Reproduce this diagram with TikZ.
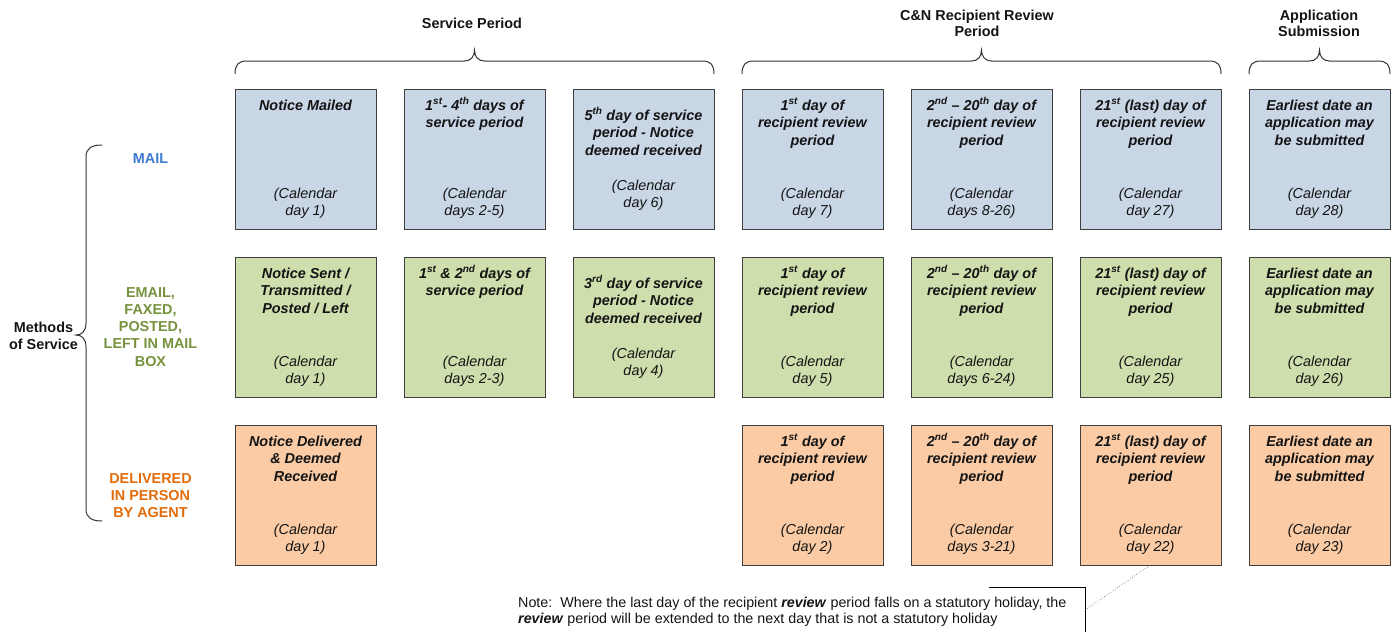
\documentclass[tikz,border=0pt]{standalone}
\usepackage{fontspec}
\setmainfont{Liberation Sans}
\definecolor{bluefill}{RGB}{201,214,230}
\definecolor{greenfill}{RGB}{206,222,172}
\definecolor{orangefill}{RGB}{250,203,164}
\definecolor{boxline}{RGB}{64,64,64}
\definecolor{maillab}{RGB}{62,122,206}
\definecolor{greenlab}{RGB}{118,146,60}
\definecolor{orangelab}{RGB}{227,108,10}
\definecolor{txt}{RGB}{20,20,20}
\newcommand\lns[1]{\begin{tabular}[t]{@{}c@{}}#1\end{tabular}}
\newcommand\lnsl[1]{\begin{tabular}[t]{@{}l@{}}#1\end{tabular}}
\newcommand\sps[1]{\textsuperscript{#1}}
\tikzset{
  box/.style={draw=boxline, line width=1pt, minimum width=141pt, minimum height=140pt, inner sep=0pt, outer sep=0pt},
  ttl/.style={inner sep=0pt, text=txt, font=\fontsize{14.4}{17.5}\selectfont\bfseries\itshape, anchor=base},
  cal/.style={inner sep=0pt, text=txt, font=\fontsize{14.4}{17.5}\selectfont\itshape, anchor=base},
  hdr/.style={inner sep=0pt, text=txt, font=\fontsize{14.4}{16.5}\selectfont\bfseries, anchor=base},
  lab/.style={inner sep=0pt, font=\fontsize{14.4}{17.3}\selectfont\bfseries, anchor=base},
  br/.style={draw=black!80, line width=1pt},
  notefont/.style={inner sep=0pt, text=txt, font=\fontsize{14.3}{16}\selectfont, anchor=base west}
}
% #1 name, #2 left x, #3 top y, #4 fill, #5 title, #6 title offset, #7 calendar, #8 calendar offset
\newcommand\cell[8]{%
  \node[box, fill=#4] (#1) at ({#2+70.5},{#3+70}) {};
  \node[ttl] (#1t) at ({#2+70.5},{#3+#6}) {\lns{#5}};
  \node[cal] (#1c) at ({#2+70.5},{#3+#8}) {\lns{#7}};
}
\newcommand\hbr[3]{%
  \draw[br] (#1,74) .. controls (#1,65) and ({#1+3},61) .. ({#1+12},61)
    -- ({#2-10},61) .. controls ({#2-4},61) and (#2,57) .. (#2,50)
    .. controls (#2,57) and ({#2+4},61) .. ({#2+10},61)
    -- ({#3-12},61) .. controls ({#3-3},61) and (#3,65) .. (#3,74);
}
\begin{document}
\begin{tikzpicture}[x=1pt,y=-1pt]
\useasboundingbox (0,0) rectangle (1392,632);

% headers
\node[hdr] (hsp) at (472,28) {Service Period};
\node[hdr] (hcn) at (977,20) {\lns{C\&N Recipient Review\\Period}};
\node[hdr] (hap) at (1319,20) {\lns{Application\\Submission}};
\hbr{235}{474.5}{714}
\hbr{742}{981.5}{1221}
\hbr{1249}{1319.5}{1390}

% left brace and labels
\draw[br] (102,145) .. controls (92,145) and (86,148) .. (86,157) -- (86,323)
  .. controls (86,331) and (82,335) .. (76,335)
  .. controls (82,335) and (86,339) .. (86,347) -- (86,509)
  .. controls (86,518) and (92,521) .. (102,521);
\node[lab, text=txt] (meth) at (43.5,332) {\lns{Methods\\of Service}};
\node[lab, text=maillab] (lmail) at (150.5,163) {MAIL};
\node[lab, text=greenlab] (lemail) at (150.5,297) {\lns{EMAIL,\\FAXED,\\POSTED,\\LEFT IN MAIL\\BOX}};
\node[lab, text=orangelab] (ldel) at (150.5,483) {\lns{DELIVERED\\IN PERSON\\BY AGENT}};

% row 1 (mail)
\cell{b11}{235}{89}{bluefill}{Notice Mailed}{21}{(Calendar\\day 1)}{109}
\cell{b12}{404}{89}{bluefill}{1\sps{st}- 4\sps{th} days of\\service period}{21}{(Calendar\\days 2-5)}{109}
\cell{b13}{573}{89}{bluefill}{5\sps{th} day of service\\period - Notice\\deemed received}{31}{(Calendar\\day 6)}{101}
\cell{b14}{742}{89}{bluefill}{1\sps{st} day of\\recipient review\\period}{21}{(Calendar\\day 7)}{109}
\cell{b15}{911}{89}{bluefill}{2\sps{nd} – 20\sps{th} day of\\recipient review\\period}{21}{(Calendar\\days 8-26)}{109}
\cell{b16}{1080}{89}{bluefill}{21\sps{st} (last) day of\\recipient review\\period}{21}{(Calendar\\day 27)}{109}
\cell{b17}{1249}{89}{bluefill}{Earliest date an\\application may\\be submitted}{21}{(Calendar\\day 28)}{109}

% row 2 (email etc.)
\cell{b21}{235}{257}{greenfill}{Notice Sent /\\Transmitted /\\Posted / Left}{21}{(Calendar\\day 1)}{109}
\cell{b22}{404}{257}{greenfill}{1\sps{st} \& 2\sps{nd} days of\\service period}{21}{(Calendar\\days 2-3)}{109}
\cell{b23}{573}{257}{greenfill}{3\sps{rd} day of service\\period - Notice\\deemed received}{31}{(Calendar\\day 4)}{101}
\cell{b24}{742}{257}{greenfill}{1\sps{st} day of\\recipient review\\period}{21}{(Calendar\\day 5)}{109}
\cell{b25}{911}{257}{greenfill}{2\sps{nd} – 20\sps{th} day of\\recipient review\\period}{21}{(Calendar\\days 6-24)}{109}
\cell{b26}{1080}{257}{greenfill}{21\sps{st} (last) day of\\recipient review\\period}{21}{(Calendar\\day 25)}{109}
\cell{b27}{1249}{257}{greenfill}{Earliest date an\\application may\\be submitted}{21}{(Calendar\\day 26)}{109}

% row 3 (delivered in person)
\cell{b31}{235}{425}{orangefill}{Notice Delivered\\\& Deemed\\Received}{21}{(Calendar\\day 1)}{109}
\cell{b34}{742}{425}{orangefill}{1\sps{st} day of\\recipient review\\period}{21}{(Calendar\\day 2)}{109}
\cell{b35}{911}{425}{orangefill}{2\sps{nd} – 20\sps{th} day of\\recipient review\\period}{21}{(Calendar\\days 3-21)}{109}
\cell{b36}{1080}{425}{orangefill}{21\sps{st} (last) day of\\recipient review\\period}{21}{(Calendar\\day 22)}{109}
\cell{b37}{1249}{425}{orangefill}{Earliest date an\\application may\\be submitted}{21}{(Calendar\\day 23)}{109}

% note
\node[notefont] (note) at (518,607) {\lnsl{Note:\ \ Where the last day of the recipient \textbf{\textit{review}} period falls on a statutory holiday, the\\\textbf{\textit{review}} period will be extended to the next day that is not a statutory holiday}};
\draw[line width=0.8pt, black] (989,587) -- (1085,587) -- (1085,632);
\coordinate (nt) at (1085,610);
\draw[dotted, line width=0.6pt, black!70] (nt) -- (b36.south);
\end{tikzpicture}
\end{document}
